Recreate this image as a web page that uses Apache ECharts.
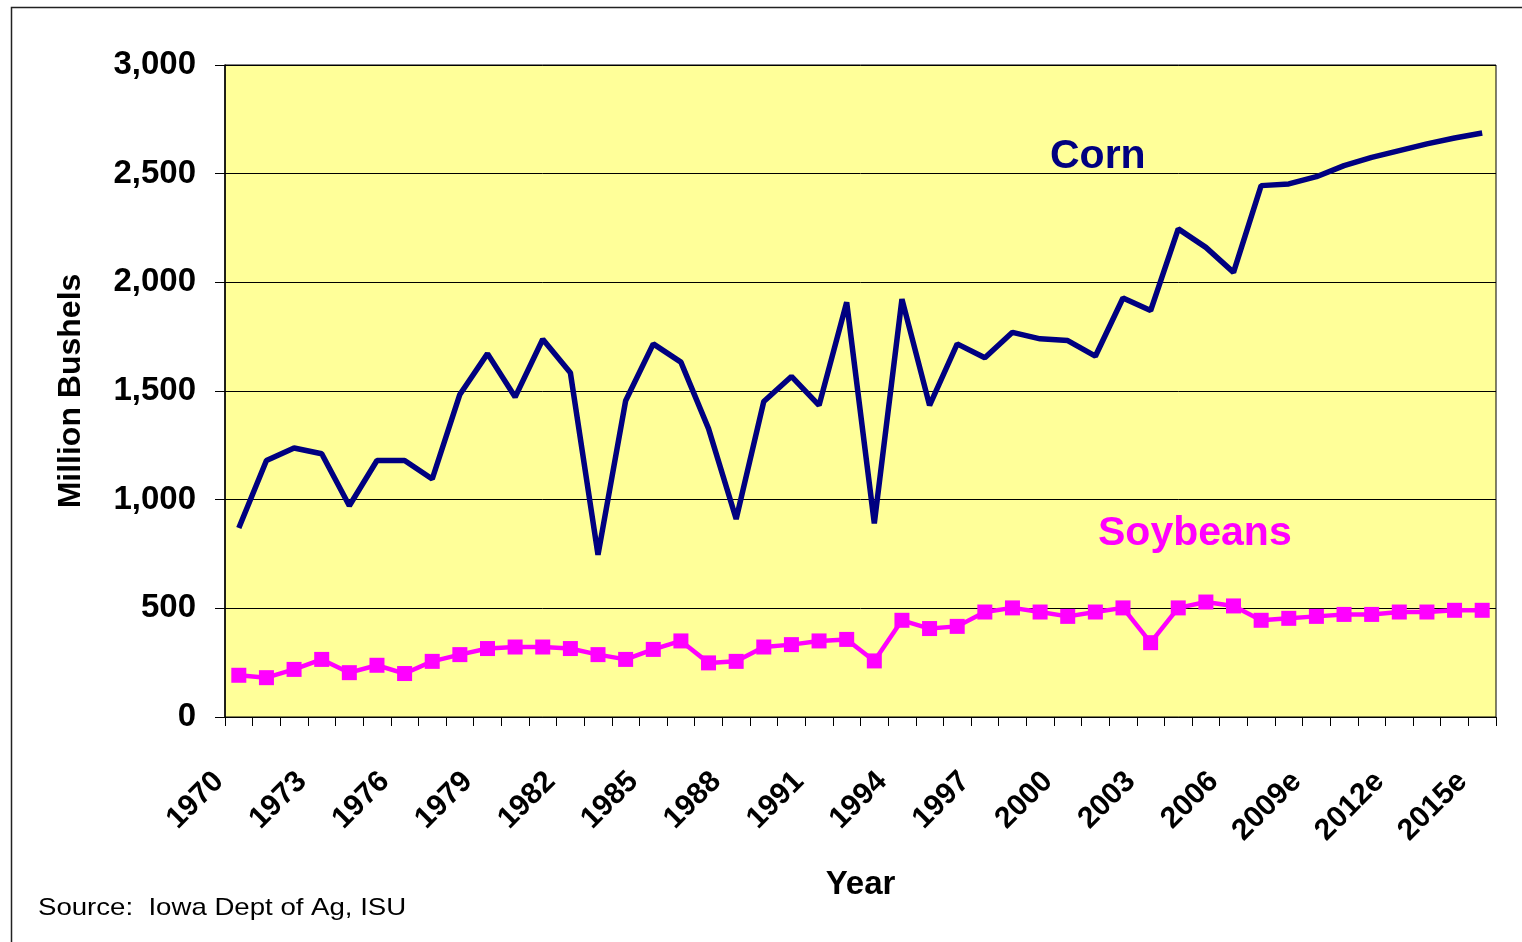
<!DOCTYPE html>
<html>
<head>
<meta charset="utf-8">
<title>Iowa Corn and Soybean Production</title>
<script src="https://cdn.jsdelivr.net/npm/echarts@6/dist/echarts.min.js"></script>
<style>
  html, body { margin: 0; padding: 0; background: #fff; }
  #chart { width: 1522px; height: 942px; }
</style>
</head>
<body>
<div id="chart"></div>
<script>
// years on the x axis (2009 onward are estimates)
var years = ['1970', '1971', '1972', '1973', '1974', '1975', '1976', '1977', '1978', '1979',
  '1980', '1981', '1982', '1983', '1984', '1985', '1986', '1987', '1988', '1989',
  '1990', '1991', '1992', '1993', '1994', '1995', '1996', '1997', '1998', '1999',
  '2000', '2001', '2002', '2003', '2004', '2005', '2006', '2007', '2008', '2009e',
  '2010e', '2011e', '2012e', '2013e', '2014e', '2015e'];

// million bushels
var corn = [870, 1180, 1238, 1211, 972, 1180, 1180, 1095, 1484, 1672,
  1472, 1738, 1584, 746, 1455, 1717, 1633, 1327, 911, 1452,
  1567, 1434, 1908, 891, 1923, 1434, 1717, 1653, 1770, 1740,
  1732, 1660, 1928, 1870, 2246, 2161, 2046, 2445, 2453, 2486,
  2537, 2575, 2606, 2637, 2664, 2687];

var soybeans = [192, 181, 219, 265, 204, 238, 200, 256, 287, 315,
  322, 322, 315, 287, 265, 311, 350, 249, 256, 322,
  333, 350, 357, 258, 445, 407, 417, 483, 502, 483,
  463, 483, 502, 342, 502, 529, 511, 445, 454, 463,
  472, 472, 483, 483, 491, 491];

var yTicks = [0, 500, 1000, 1500, 2000, 2500, 3000];

var font = "'Liberation Sans', Arial, sans-serif";
var myChart = echarts.init(document.getElementById('chart'));

var option = {
  backgroundColor: '#fff',
  animation: false,
  textStyle: { fontFamily: font },
  grid: {
    left: 225,
    right: 26,
    top: 65,
    bottom: 225,
    show: true,
    backgroundColor: '#FFFF99',
    borderColor: '#000',
    borderWidth: 1
  },
  xAxis: {
    type: 'category',
    data: years,
    boundaryGap: true,
    name: 'Year',
    nameLocation: 'middle',
    nameGap: 151,
    nameTextStyle: { fontFamily: font, fontSize: 33, fontWeight: 'bold', color: '#000' },
    axisLine: { lineStyle: { color: '#000', width: 1 } },
    axisTick: { show: true, interval: 0, length: 9, lineStyle: { color: '#000' } },
    axisLabel: {
      interval: 2,
      rotate: 45,
      margin: 40,
      padding: [0, 28, 0, 0],
      fontFamily: font,
      fontSize: 30,
      fontWeight: 'bold',
      color: '#000'
    },
    splitLine: { show: false }
  },
  yAxis: {
    type: 'value',
    min: yTicks[0],
    max: yTicks[yTicks.length - 1],
    interval: 500,
    name: 'Million Bushels',
    nameLocation: 'middle',
    nameGap: 138,
    nameTextStyle: { fontFamily: font, fontSize: 32, fontWeight: 'bold', color: '#000' },
    axisLine: { show: true, lineStyle: { color: '#000', width: 1.5 } },
    axisTick: { show: true, length: 10, lineStyle: { color: '#000' } },
    axisLabel: {
      margin: 29,
      fontFamily: font,
      fontSize: 33,
      fontWeight: 'bold',
      color: '#000',
      formatter: function (v) { return v.toLocaleString('en-US'); }
    },
    splitLine: { show: true, lineStyle: { color: '#000', width: 1 } }
  },
  series: [
    {
      name: 'Corn',
      type: 'line',
      data: corn,
      symbol: 'none',
      lineStyle: { color: '#000080', width: 5.5 },
      itemStyle: { color: '#000080' },
      z: 3
    },
    {
      name: 'Soybeans',
      type: 'line',
      data: soybeans,
      symbol: 'rect',
      symbolSize: 15,
      lineStyle: { color: '#FF00FF', width: 4.5 },
      itemStyle: { color: '#FF00FF' },
      z: 2
    }
  ],
  graphic: [
    {
      type: 'rect',
      left: 9,
      top: 5,
      shape: { width: 1530, height: 960 },
      style: { fill: 'none', stroke: '#222', lineWidth: 1.5 },
      silent: true
    },
    {
      type: 'text',
      left: 1050,
      top: 136,
      style: { text: 'Corn', fill: '#000080', font: 'bold 41px ' + font },
      z: 10
    },
    {
      type: 'text',
      left: 1098,
      top: 513,
      style: { text: 'Soybeans', fill: '#FF00FF', font: 'bold 41px ' + font },
      z: 10
    },
    {
      type: 'text',
      x: 38,
      y: 896,
      scaleX: 1.15,
      style: { text: 'Source:  Iowa Dept of Ag, ISU', fill: '#000', font: '24px ' + font },
      z: 10
    }
  ]
};

myChart.setOption(option);
</script>
</body>
</html>
